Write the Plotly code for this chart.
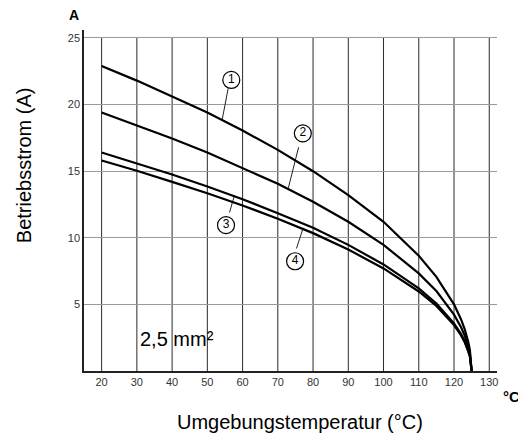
import plotly.graph_objects as go

# Temperatures (°C) at which the curves were read
temps = [20, 30, 40, 50, 60, 70, 80, 90, 100, 110, 115, 120, 122, 123, 124, 124.5, 125]
curve1 = [22.9, 21.8, 20.6, 19.4, 18.05, 16.6, 15.0, 13.2, 11.2, 8.65, 7.07, 5.0, 3.87, 3.16, 2.23, 1.58, 0]
curve2 = [19.4, 18.45, 17.45, 16.4, 15.25, 14.05, 12.7, 11.2, 9.47, 7.33, 6.0, 4.23, 3.28, 2.68, 1.89, 1.34, 0]
curve3 = [16.4, 15.6, 14.75, 13.85, 12.9, 11.85, 10.75, 9.47, 8.0, 6.2, 5.06, 3.58, 2.77, 2.26, 1.6, 1.13, 0]
curve4 = [15.8, 15.03, 14.2, 13.35, 12.43, 11.43, 10.35, 9.12, 7.7, 5.97, 4.88, 3.45, 2.67, 2.18, 1.54, 1.09, 0]

# Circled labels and their leader lines
label_text = ["1", "2", "3", "4"]
label_x = [56.8, 77.1, 55.3, 74.9]
label_y = [21.85, 17.84, 10.95, 8.24]
leader_x0 = [55.9, 75.9, 56.3, 75.3]
leader_y0 = [21.2, 16.8, 11.9, 9.2]
leader_x1 = [54.2, 73.0, 57.7, 77.2]
leader_y1 = [18.85, 13.75, 13.2, 10.75]

x_ticks = [20, 30, 40, 50, 60, 70, 80, 90, 100, 110, 120, 130]
y_ticks = [5, 10, 15, 20, 25]

fig = go.Figure()

for t in x_ticks:
    fig.add_shape(type="line", x0=t, x1=t, y0=0, y1=25, xref="x", yref="y",
                  line=dict(color="#2a2a2a", width=1), layer="below")

for lx0, ly0, lx1, ly1 in zip(leader_x0, leader_y0, leader_x1, leader_y1):
    fig.add_trace(go.Scatter(x=[lx0, lx1], y=[ly0, ly1], mode="lines",
                             line=dict(color="#222", width=1), showlegend=False, hoverinfo="skip"))

for c in [curve1, curve2, curve3, curve4]:
    fig.add_trace(go.Scatter(x=temps, y=c, mode="lines", line=dict(color="black", width=2.2),
                             showlegend=False))

fig.add_trace(go.Scatter(x=label_x, y=label_y, mode="markers+text", text=label_text,
                         textposition="middle center",
                         textfont=dict(family="Liberation Sans Narrow, Liberation Sans", size=12, color="black"),
                         marker=dict(symbol="circle", size=17, color="white",
                                     line=dict(color="black", width=1.2)),
                         showlegend=False))

fig.add_annotation(x=41.5, y=2.4, text="2,5 mm²", showarrow=False,
                   font=dict(family="Liberation Sans", size=20, color="black"))
fig.add_annotation(xref="paper", yref="paper", x=-0.024, y=1.044, yanchor="middle", xanchor="center",
                   text="<b>A</b>", showarrow=False,
                   font=dict(family="Liberation Sans", size=14, color="black"))
fig.add_annotation(xref="paper", yref="paper", x=1.036, y=-0.076, yanchor="middle", xanchor="center",
                   text="<b>°C</b>", showarrow=False,
                   font=dict(family="Liberation Sans", size=15, color="black"))
fig.add_annotation(xref="paper", yref="paper", x=-0.145, y=0.604, yanchor="middle", xanchor="center",
                   text="Betriebsstrom (A)", textangle=-90, showarrow=False,
                   font=dict(family="Liberation Sans", size=20, color="black"))
fig.add_annotation(xref="paper", yref="paper", x=0.523, y=-0.150, yanchor="middle", xanchor="center",
                   text="Umgebungstemperatur (°C)", showarrow=False,
                   font=dict(family="Liberation Sans", size=20, color="black"))

fig.update_layout(
    width=518, height=429,
    margin=dict(l=76, r=29, t=22, b=66, autoexpand=False),
    paper_bgcolor="white", plot_bgcolor="white",
    xaxis=dict(range=[15, 132.2], tickvals=x_ticks, ticktext=[str(v) for v in x_ticks],
               showgrid=False, zeroline=False, showline=True, linecolor="#222", linewidth=1.5,
               ticks="", automargin=False,
               tickfont=dict(family="Liberation Sans Narrow, Liberation Sans", size=11, color="#333")),
    yaxis=dict(range=[0, 25.6], tickvals=y_ticks, ticktext=[str(v) for v in y_ticks],
               showgrid=True, gridcolor="#9a9a9a", gridwidth=1, zeroline=False,
               showline=True, linecolor="#222", linewidth=1.5, ticks="", automargin=False,
               tickfont=dict(family="Liberation Sans Narrow, Liberation Sans", size=11, color="#333")),
)

fig.write_html("out.html")
